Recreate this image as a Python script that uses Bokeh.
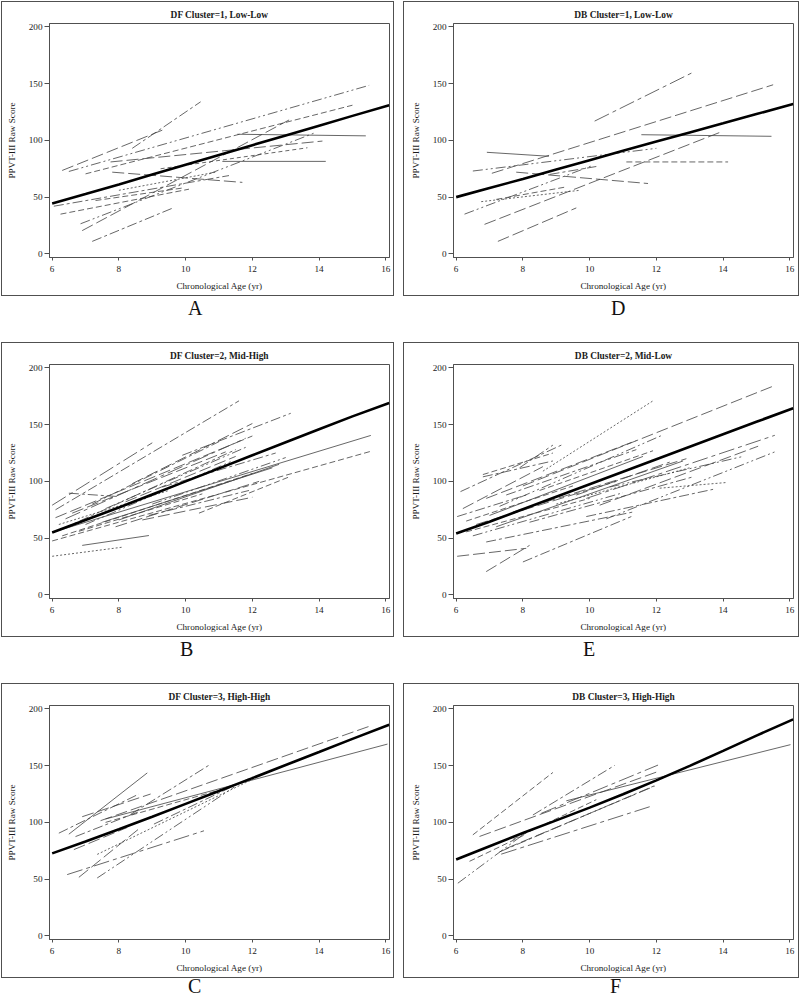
from bokeh.plotting import figure
from bokeh.layouts import column, row
from bokeh.models import Div, FixedTicker, Range1d
from bokeh.embed import file_html
from bokeh.resources import INLINE

XTICKS = [6, 8, 10, 12, 14, 16]
YTICKS = [0, 50, 100, 150, 200]
X_LABEL = "Chronological Age (yr)"
Y_LABEL = "PPVT-III Raw Score"

MEAN_X = [6.0, 7.0, 8.0, 9.0, 10.0, 11.0, 12.0, 13.0, 14.0, 15.0, 16.1]

# Panel A: DF Cluster=1
A_TITLE = "DF Cluster=1, Low-Low"
A_MEAN = [44.3, 52.7, 61.2, 69.9, 78.6, 87.2, 95.8, 104.4, 113.0, 121.6, 131.0]
A_X0 = [6.3, 8.4, 6.5, 7.0, 7.75, 11.55, 11.1, 9.25, 7.8, 6.05, 6.25, 6.85, 6.9, 7.2, 8.0, 7.3]
A_Y0 = [73.5, 93, 72.6, 70.5, 81, 105.4, 81.5, 75, 72, 42, 35, 26.5, 20.5, 11, 56, 47]
A_X1 = [9.3, 10.45, 15.5, 15.0, 14.1, 15.4, 14.2, 13.65, 11.7, 11.3, 10.1, 13.9, 13.1, 9.65, 10.9, 9.9]
A_Y1 = [109, 134, 148.5, 131, 99.4, 104, 81.5, 93.5, 63, 69, 57, 107, 118, 40.8, 72, 58]

# Panel D: DB Cluster=1
D_TITLE = "DB Cluster=1, Low-Low"
D_MEAN = [50.0, 58.0, 66.0, 74.3, 82.6, 90.8, 99.0, 107.0, 115.0, 123.2, 132.0]
D_X0 = [10.15, 7.07, 11.55, 11.1, 6.92, 6.5, 7.8, 6.25, 6.85, 7.25, 6.75, 7.2, 8.8]
D_Y0 = [117, 71, 105, 81, 89.5, 73, 72, 35, 26, 11, 46, 48, 70]
D_X1 = [13.1, 15.5, 15.45, 14.15, 8.78, 12.0, 11.75, 10.1, 13.9, 9.6, 9.7, 9.3, 10.2]
D_Y1 = [160, 149, 103.6, 81, 86, 93, 62, 78, 107, 40.5, 56, 59, 77]

# Panel B: DF Cluster=2
B_TITLE = "DF Cluster=2, Mid-High"
B_MEAN = [55.0, 66.0, 77.0, 88.5, 100.0, 111.5, 123.0, 134.5, 146.0, 157.3, 169.0]
B_X0 = [6.1, 6.0, 6.1, 8.4, 9.9, 6.0, 6.0, 10.4, 6.9, 6.0, 8.7, 8.9, 8.0, 9.0, 6.3, 6.5, 6.4, 6.3, 7.0, 6.6, 7.2, 7.5, 8.2, 6.8, 7.6, 9.3, 6.2, 7.9]
B_Y0 = [75, 79, 68, 98, 123, 55, 47.5, 72, 43.6, 34, 66, 70, 66, 80, 58, 89.6, 67, 52, 62, 72, 80, 64, 82, 56, 76, 95, 62, 60]
B_X1 = [11.6, 9.0, 12.0, 12.0, 13.15, 15.55, 15.55, 13.15, 8.9, 8.1, 12.0, 11.9, 12.8, 13.0, 11.5, 8.0, 11.8, 12.0, 11.4, 11.2, 11.0, 12.6, 11.5, 10.5, 11.8, 12.7, 9.5, 12.2]
B_Y1 = [171, 134, 140, 151, 160, 140.5, 126.5, 104.5, 52.3, 42, 86, 92, 115, 121, 128, 86.6, 138, 107, 118, 126, 135, 112, 122, 89, 130, 125, 92, 100]

# Panel E: DB Cluster=2
E_TITLE = "DB Cluster=2, Mid-Low"
E_MEAN = [54.0, 64.5, 75.5, 86.5, 97.5, 108.5, 119.5, 130.5, 141.5, 152.5, 164.5]
E_X0 = [8.0, 8.6, 6.13, 6.2, 6.03, 6.8, 9.9, 10.3, 10.5, 12.1, 9.9, 8.0, 6.9, 6.03, 6.3, 6.9, 6.9, 7.3, 7.0, 7.5, 8.5, 6.6, 7.2, 6.5, 8.2, 7.7, 9.0, 7.9, 10.6, 6.3, 9.6, 6.8]
E_Y0 = [96, 109, 91, 76, 69, 106, 85, 79, 67, 94, 69, 29, 20.5, 34, 55.5, 46.6, 85, 78, 70, 88, 92, 62, 60, 52, 64, 73, 80, 112, 95, 65, 88, 104]
E_X1 = [15.55, 11.9, 9.2, 8.6, 8.1, 8.9, 15.55, 15.05, 15.55, 14.1, 13.7, 11.25, 8.2, 8.1, 10.0, 11.3, 11.4, 12.2, 11.6, 11.4, 11.9, 10.8, 12.8, 11.0, 13.1, 12.9, 13.0, 8.9, 14.6, 9.5, 12.4, 8.9]
E_Y1 = [184.5, 171, 132.6, 113, 88, 125, 140.6, 131, 126, 99, 93, 69, 43.6, 41, 85, 73, 136, 141, 122, 128, 127, 100, 118, 90, 104, 120, 112, 132, 122, 96, 117, 118]

# Panel C: DF Cluster=3
C_TITLE = "DF Cluster=3, High-High"
C_MEAN = [72.7, 83.2, 94.0, 105.0, 116.3, 127.6, 139.0, 150.5, 162.0, 173.6, 186.0]
C_X0 = [6.5, 6.2, 6.9, 6.7, 8.35, 7.45, 7.6, 6.45, 6.8, 7.35, 9.05, 7.35, 6.65, 7.6]
C_Y0 = [89.6, 90.5, 105, 87.5, 107, 101.5, 103, 54, 51.6, 71.8, 98.5, 51, 76, 100]
C_X1 = [8.85, 8.6, 8.95, 8.65, 10.7, 15.5, 16.05, 10.55, 8.65, 12.05, 12.0, 11.45, 8.25, 11.2]
C_Y1 = [143.6, 125, 125, 110, 150.4, 184.6, 169, 92.6, 95.5, 138.6, 140, 131, 95.5, 130]

# Panel F: DB Cluster=3
F_TITLE = "DB Cluster=3, High-High"
F_MEAN = [67.3, 79.0, 90.6, 101.8, 113.0, 124.8, 137.0, 149.8, 163.0, 176.5, 190.8]
F_X0 = [6.5, 6.7, 8.3, 8.55, 9.3, 7.35, 6.4, 6.05, 7.5, 7.3, 7.7]
F_Y0 = [89, 87.6, 106.5, 108, 119, 72, 65.7, 46.4, 77, 74, 85]
F_X1 = [8.9, 12.0, 10.75, 12.05, 16.02, 11.8, 8.05, 8.0, 11.95, 12.0, 10.2]
F_Y1 = [144, 144.3, 150.2, 150.5, 168.5, 113.8, 89, 89, 132, 133, 120]

# line styles (one per segment)
A_DASH = ["ld", "dd", "ddd", "d", "ld", "s", "s", "sd", "ld", "dd", "d", "ddd", "ld", "dd", "dot", "d"]
D_DASH = ["ldd", "ld", "s", "d", "s", "ddd", "ld", "ddd", "ld", "ld", "dot", "d", "dd"]
B_DASH = ["dd", "ldd", "ld", "ld", "dd", "s", "d", "d", "s", "dot", "ld", "dd", "s", "ddd", "dd", "dd",
          "ldd", "d", "ddd", "ld", "dd", "s", "ld", "d", "ddd", "dd", "dot", "ld"]
E_DASH = ["ld", "dot", "dd", "ld", "dd", "d", "ldd", "ld", "ddd", "dot", "dd", "dd", "ld", "ld", "d", "dd",
          "ld", "ddd", "s", "dd", "d", "ld", "s", "ddd", "dd", "ld", "dot", "dd", "ddd", "d", "ld", "dd"]
C_DASH = ["s", "dd", "ld", "dd", "dd", "ld", "s", "ldd", "ld", "dot", "dd", "ddd", "ld", "d"]
F_DASH = ["d", "ld", "dd", "ldd", "s", "ldd", "d", "ddd", "ld", "dd", "d"]
PATTERNS = {"s": "solid", "d": "6 3", "ld": "12 4", "dd": "10 3 3 3", "ddd": "10 3 2 3 2 3",
            "dot": "2 2", "ldd": "16 4 4 4", "sd": "4 3"}

SERIF = "Liberation Serif"
TXT = "#1a1a1a"
LINE_GRAY = "#404040"
FRAME_GRAY = "#505050"

LEFT_W, RIGHT_W, FIG_H, GAP = 393, 396, 295, 9


def make_panel(title, x0, y0, x1, y1, mean_y, dashes, right_side):
    p = figure(width=RIGHT_W if right_side else LEFT_W, height=FIG_H,
               output_backend="svg", toolbar_location=None,
               x_range=Range1d(5.92, 16.11), y_range=Range1d(-3.2, 203.0),
               min_border_left=49 if right_side else 47,
               min_border_right=7 if right_side else 6,
               min_border_top=21, min_border_bottom=40,
               title=title)
    p.styles = {"border": "1px solid %s" % FRAME_GRAY}
    p.title.align = "center"
    p.title.text_font = SERIF
    p.title.text_font_size = "9.4px"
    p.title.text_font_style = "bold"
    p.title.text_color = TXT
    p.title.standoff = 8
    p.outline_line_color = FRAME_GRAY
    p.outline_line_width = 1
    p.grid.visible = False
    p.xaxis.ticker = FixedTicker(ticks=XTICKS)
    p.yaxis.ticker = FixedTicker(ticks=YTICKS)
    for ax in (p.xaxis[0], p.yaxis[0]):
        ax.axis_line_color = FRAME_GRAY
        ax.major_tick_line_color = FRAME_GRAY
        ax.major_tick_in = 0
        ax.minor_tick_line_color = None
        ax.major_label_text_font = SERIF
        ax.major_label_text_font_size = "9.2px"
        ax.major_label_text_color = TXT
        ax.axis_label_text_font = SERIF
        ax.axis_label_text_font_size = "9.2px"
        ax.axis_label_text_font_style = "normal"
        ax.axis_label_text_color = TXT
    p.xaxis.major_tick_out = 3
    p.yaxis.major_tick_out = 5
    p.xaxis.axis_label = X_LABEL
    p.yaxis.axis_label = Y_LABEL
    p.xaxis.major_label_standoff = 5
    p.yaxis.major_label_standoff = 2
    p.xaxis.axis_label_standoff = 6
    p.yaxis.axis_label_standoff = 9
    for i in range(len(x0)):
        p.line([x0[i], x1[i]], [y0[i], y1[i]], line_color=LINE_GRAY, line_width=0.8,
               line_dash=PATTERNS[dashes[i]])
    p.line(MEAN_X, mean_y, line_color="black", line_width=2.6)
    return p


def letter_div(letter, w, cx, h, top, lh):
    html = ('<div style="position:relative; left:%dpx; top:%dpx; font-family:\'Liberation Serif\';'
            ' font-size:20px; line-height:%dpx; color:#111; white-space:nowrap;">%s</div>'
            % (cx - 7, top, lh, letter))
    return Div(text=html, width=w, height=h, margin=0, styles={"overflow": "visible"})


def cell(letter, cx, title, x0, y0, x1, y1, mean_y, dashes, right_side, h=46, top=2, lh=20):
    p = make_panel(title, x0, y0, x1, y1, mean_y, dashes, right_side)
    w = RIGHT_W if right_side else LEFT_W
    return column(p, letter_div(letter, w, cx, h, top, lh), spacing=0)


cA = cell("A", 194, A_TITLE, A_X0, A_Y0, A_X1, A_Y1, A_MEAN, A_DASH, False)
cD = cell("D", 215, D_TITLE, D_X0, D_Y0, D_X1, D_Y1, D_MEAN, D_DASH, True)
cB = cell("B", 186, B_TITLE, B_X0, B_Y0, B_X1, B_Y1, B_MEAN, B_DASH, False)
cE = cell("E", 187, E_TITLE, E_X0, E_Y0, E_X1, E_Y1, E_MEAN, E_DASH, True)
cC = cell("C", 194, C_TITLE, C_X0, C_Y0, C_X1, C_Y1, C_MEAN, C_DASH, False, h=18, top=-1, lh=18)
cF = cell("F", 214, F_TITLE, F_X0, F_Y0, F_X1, F_Y1, F_MEAN, F_DASH, True, h=18, top=-1, lh=18)

layout = column(row(cA, cD, spacing=GAP), row(cB, cE, spacing=GAP), row(cC, cF, spacing=GAP),
                spacing=0, styles={"margin-left": "1px", "margin-top": "1px"})

open("out.html", "w").write(file_html(layout, INLINE))
